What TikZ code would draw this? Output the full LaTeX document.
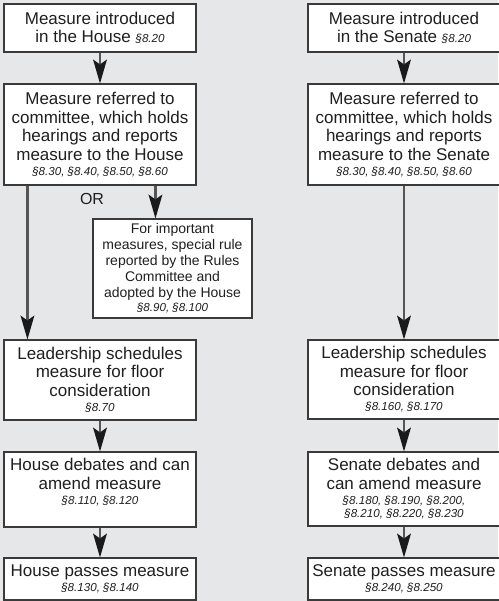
\documentclass[tikz,border=0pt]{standalone}
\usepackage{fontspec}
\setmainfont{Liberation Sans}
\usetikzlibrary{arrows.meta}
\definecolor{bggray}{HTML}{E6E7E8}
\definecolor{boxline}{HTML}{3A3A3A}
\definecolor{linegray}{HTML}{555555}
\definecolor{tipblack}{HTML}{1A1A1A}
\newcommand\secref[1]{{\fontsize{11.6}{13}\selectfont\itshape #1}}
\tikzset{
  box/.style={draw=boxline, fill=white, line width=1.1pt, align=center,
    font=\fontsize{17}{18.5}\selectfont, inner sep=0pt, text=black!88},
  rulebox/.style={box, font=\fontsize{14}{16}\selectfont},
  txt/.style={align=center, font=\fontsize{17}{18.5}\selectfont, inner sep=0pt, text=black!88},
  arr/.style={draw=linegray, line width=2.1pt,
    -{Stealth[length=24pt, width=14pt, inset=5pt, line width=0pt, color=tipblack]}},
  ortext/.style={font=\fontsize{16}{18}\selectfont, text=black!88, inner sep=0pt}
}
\begin{document}
\begin{tikzpicture}[x=1pt, y=-1pt]
\fill[bggray] (0,0) rectangle (498,601);
\useasboundingbox (0,0) rectangle (498,601);

% House column
\node[box, minimum width=192pt, minimum height=48pt] (h1) at (100,28)
  {Measure introduced\\in the House \secref{§8.20}};
\node[box, minimum width=192pt, minimum height=101pt] (h2) at (100,134.5)
  {Measure referred to\\committee, which holds\\hearings and reports\\measure to the House\\[-3.5pt]\secref{§8.30, §8.40, §8.50, §8.60}};
\node[ortext] (or) at (92,199) {OR};
\node[rulebox, minimum width=159pt, minimum height=99pt] (rules) at (172.5,268.5)
  {For important\\measures, special rule\\reported by the Rules\\Committee and\\adopted by the House\\[-2pt]\secref{§8.90, §8.100}};
\node[box, minimum width=192pt, minimum height=80pt] (hl) at (100,380)
  {Leadership schedules\\measure for floor\\consideration\\[-3pt]\secref{§8.70}};
\node[box, minimum width=192pt, minimum height=75pt] (hd) at (100,489.5) {};
\node[txt, anchor=north] (hdt) at ([yshift=-7pt]hd.north)
  {House debates and can\\amend measure\\[-3pt]\secref{§8.110, §8.120}};
\node[box, minimum width=192pt, minimum height=42pt] (hp) at (100,579) {};
\node[txt, anchor=north] (hpt) at ([yshift=-7pt]hp.north)
  {House passes measure\\[-3.5pt]\secref{§8.130, §8.140}};

% Senate column
\node[box, minimum width=192pt, minimum height=48pt] (s1) at (404,28)
  {Measure introduced\\in the Senate \secref{§8.20}};
\node[box, minimum width=192pt, minimum height=101pt] (s2) at (404,134.5)
  {Measure referred to\\committee, which holds\\hearings and reports\\measure to the Senate\\[-3.5pt]\secref{§8.30, §8.40, §8.50, §8.60}};
\node[box, minimum width=192pt, minimum height=79pt] (sl) at (404,379.5)
  {Leadership schedules\\measure for floor\\consideration\\[-3.5pt]\secref{§8.160, §8.170}};
\node[box, minimum width=192pt, minimum height=74pt] (sd) at (404,489)
  {Senate debates and\\can amend measure\\[-3.5pt]\secref{§8.180, §8.190, §8.200,}\\[-5pt]\secref{§8.210, §8.220, §8.230}};
\node[box, minimum width=192pt, minimum height=42pt] (sp) at (404,579) {};
\node[txt, anchor=north] (spt) at ([yshift=-7pt]sp.north)
  {Senate passes measure\\[-3.5pt]\secref{§8.240, §8.250}};

% connectors
\draw[arr] (h1) -- (h2);
\draw[arr] ([xshift=24pt]h2.south west) -- ([xshift=24pt]hl.north west);
\draw[arr] ([xshift=152pt]h2.south west) -- ([xshift=63pt]rules.north west);
\draw[arr] (hl) -- (hd);
\draw[arr] (hd) -- (hp);
\draw[arr] (s1) -- (s2);
\draw[arr] (s2) -- (sl);
\draw[arr] (sl) -- (sd);
\draw[arr] (sd) -- (sp);
\end{tikzpicture}
\end{document}
